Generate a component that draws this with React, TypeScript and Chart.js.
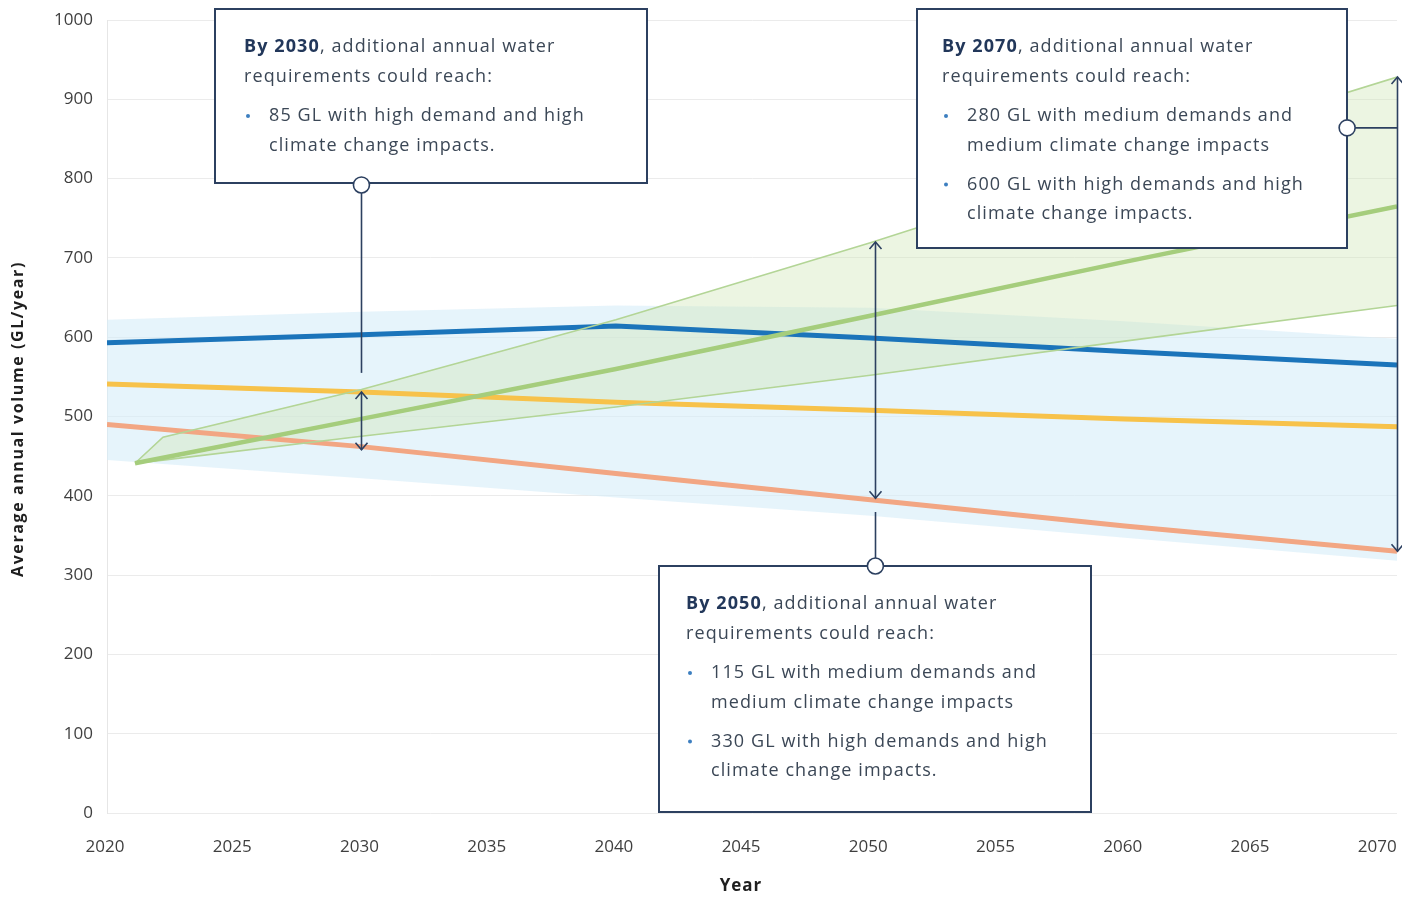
import React, { useEffect, useRef } from 'react';
import { Chart, registerables } from 'chart.js';

Chart.register(...registerables);

// ---------- data ----------
const X_END = 2070.7;
const X_TICKS = [2020, 2025, 2030, 2035, 2040, 2045, 2050, 2055, 2060, 2065, 2070];

const LINE_YEARS = [2020, 2030, 2040, 2050, 2060, X_END];
const BLUE_VALUES = [593, 603, 614, 599, 582, 565];
const YELLOW_VALUES = [541, 531, 518, 508, 497, 487];
const ORANGE_VALUES = [490, 462, 428, 395, 362, 330];

const BAND_YEARS = [2020, 2030, 2040, 2050, 2060, X_END];
const BAND_UPPER = [622, 632, 640, 637, 620, 598];
const BAND_LOWER = [445, 422, 398, 375, 347, 318];

const GREEN_YEARS = [2021.1, 2022.2, 2030, 2040, 2050, 2060, X_END];
const GREEN_HIGH = [441, 474, 534, 622, 719, 822, 928];
const GREEN_MID = [441, 448, 497, 560, 627, 695, 765];
const GREEN_LOW = [441, 445, 475, 512, 552, 595, 640];

const X_TITLE = 'Year';
const Y_TITLE = 'Average annual volume (GL/year)';

// ---------- annotation texts ----------
type Seg = [string, boolean];
interface Note {
  x1: number; x2: number; yTop: number; yBot: number;
  head: Seg[][];
  bullets: string[][];
  textDx: number;
}

const NOTES: Note[] = [
  {
    x1: 2024.25, x2: 2041.23, yTop: 1014, yBot: 794.5, textDx: 29,
    head: [[['By 2030', true], [', additional annual water', false]], [['requirements could reach:', false]]],
    bullets: [['85 GL with high demand and high', 'climate change impacts.']],
  },
  {
    x1: 2051.84, x2: 2068.74, yTop: 1014, yBot: 712.5, textDx: 25,
    head: [[['By 2070', true], [', additional annual water', false]], [['requirements could reach:', false]]],
    bullets: [
      ['280 GL with medium demands and', 'medium climate change impacts'],
      ['600 GL with high demands and high', 'climate change impacts.'],
    ],
  },
  {
    x1: 2041.7, x2: 2058.68, yTop: 311.5, yBot: 1.3, textDx: 27,
    head: [[['By 2050', true], [', additional annual water', false]], [['requirements could reach:', false]]],
    bullets: [
      ['115 GL with medium demands and', 'medium climate change impacts'],
      ['330 GL with high demands and high', 'climate change impacts.'],
    ],
  },
];

const FONT = '"Open Sans", sans-serif';
const NAVY = '#2c4060';
const TEXT = '#3b4756';

function xy(years: number[], vals: number[]) {
  return years.map((x, i) => ({ x, y: vals[i] }));
}

const notesPlugin = {
  id: 'notes',
  afterDatasetsDraw(chart: any) {
    const { ctx, scales } = chart;
    const X = (v: number) => scales.x.getPixelForValue(v);
    const Y = (v: number) => scales.y.getPixelForValue(v);
    ctx.save();

    const vline = (x: number, y1: number, y2: number) => {
      ctx.beginPath();
      ctx.moveTo(x, y1);
      ctx.lineTo(x, y2);
      ctx.stroke();
    };
    const dblArrow = (xv: number, v1: number, v2: number) => {
      const x = Math.round(X(xv)) + 0.5;
      const yt = Y(v1);
      const yb = Y(v2);
      vline(x, yt, yb);
      ctx.beginPath();
      ctx.moveTo(x - 6, yt + 7); ctx.lineTo(x, yt); ctx.lineTo(x + 6, yt + 7);
      ctx.moveTo(x - 6, yb - 7); ctx.lineTo(x, yb); ctx.lineTo(x + 6, yb - 7);
      ctx.stroke();
    };
    const circle = (x: number, y: number) => {
      ctx.beginPath();
      ctx.arc(x, y, 8, 0, Math.PI * 2);
      ctx.fillStyle = '#ffffff';
      ctx.fill();
      ctx.lineWidth = 1.6;
      ctx.strokeStyle = NAVY;
      ctx.stroke();
    };

    ctx.strokeStyle = NAVY;
    ctx.lineWidth = 1.6;
    dblArrow(2030, 531, 458);
    vline(Math.round(X(2030)) + 0.5, Y(792), Y(555));
    dblArrow(2050.2, 720, 397);
    vline(Math.round(X(2050.2)) + 0.5, Y(311.5), Y(379.6));
    dblArrow(X_END, 928, 330);
    ctx.beginPath();
    ctx.moveTo(X(2068.74), Y(864));
    ctx.lineTo(X(X_END), Y(864));
    ctx.stroke();

    NOTES.forEach((n) => {
      const l = Math.round(X(n.x1)), r = Math.round(X(n.x2));
      const t = Math.round(Y(n.yTop)), b = Math.round(Y(n.yBot));
      ctx.fillStyle = '#ffffff';
      ctx.fillRect(l, t, r - l, b - t);
      ctx.lineWidth = 2;
      ctx.strokeStyle = NAVY;
      ctx.strokeRect(l, t, r - l, b - t);

      ctx.textBaseline = 'middle';
      ctx.textAlign = 'left';
      (ctx as any).letterSpacing = '1.1px';
      let y = t + 38;
      n.head.forEach((line, i) => {
        if (i > 0) y += 30;
        let x = l + n.textDx;
        line.forEach(([s, bold]) => {
          ctx.font = `${bold ? '700' : '400'} 18px ${FONT}`;
          ctx.fillStyle = bold ? '#22375a' : TEXT;
          ctx.fillText(s, x, y);
          x += ctx.measureText(s).width;
        });
      });
      n.bullets.forEach((lines) => {
        y += 39;
        ctx.fillStyle = '#3d7fc0';
        ctx.beginPath();
        ctx.arc(l + n.textDx + 4, y, 2, 0, Math.PI * 2);
        ctx.fill();
        lines.forEach((s, i) => {
          if (i > 0) y += 29.5;
          ctx.font = `400 18px ${FONT}`;
          ctx.fillStyle = TEXT;
          ctx.fillText(s, l + n.textDx + 25, y);
        });
      });
      (ctx as any).letterSpacing = '0px';
    });

    circle(X(2030), Y(792));
    circle(X(2050.2), Y(311.5));
    circle(X(2068.74), Y(864));
    ctx.restore();
  },
  afterDraw(chart: any) {
    const { ctx, chartArea } = chart;
    ctx.save();
    ctx.fillStyle = '#1f1f1f';
    ctx.textAlign = 'center';
    ctx.textBaseline = 'middle';
    (ctx as any).letterSpacing = '1px';
    ctx.font = `700 17px ${FONT}`;
    ctx.fillText(X_TITLE, (chartArea.left + chartArea.right) / 2 - 11, 886);
    (ctx as any).letterSpacing = '1.6px';
    ctx.font = `700 16px ${FONT}`;
    ctx.translate(18, 419);
    ctx.rotate(-Math.PI / 2);
    ctx.fillText(Y_TITLE, 0, 0);
    ctx.restore();
  },
};

export default function App() {
  const ref = useRef<HTMLCanvasElement | null>(null);

  useEffect(() => {
    document.body.style.margin = '0';
    const canvas = ref.current;
    if (!canvas) return;
    const thin = { pointRadius: 0, pointHoverRadius: 0, tension: 0 };
    const none = 'rgba(0,0,0,0)';
    const chart = new Chart(canvas, {
      type: 'line',
      data: {
        datasets: [
          { label: 'bandUpper', data: xy(BAND_YEARS, BAND_UPPER), borderWidth: 0, borderColor: none, fill: false, order: 10, ...thin },
          { label: 'bandLower', data: xy(BAND_YEARS, BAND_LOWER), borderWidth: 0, borderColor: none, backgroundColor: 'rgba(214,236,248,0.6)', fill: 0, order: 9, ...thin },
          { label: 'greenFillHigh', data: xy(GREEN_YEARS, GREEN_HIGH), borderWidth: 0, borderColor: none, fill: false, order: 8, ...thin },
          { label: 'greenFillLow', data: xy(GREEN_YEARS, GREEN_LOW), borderWidth: 0, borderColor: none, backgroundColor: 'rgba(208,230,182,0.4)', fill: 2, order: 7, ...thin },
          { label: 'orange', data: xy(LINE_YEARS, ORANGE_VALUES), borderWidth: 5, borderColor: '#f2a683', fill: false, order: 6, ...thin },
          { label: 'yellow', data: xy(LINE_YEARS, YELLOW_VALUES), borderWidth: 5, borderColor: '#f7c24a', fill: false, order: 5, ...thin },
          { label: 'blue', data: xy(LINE_YEARS, BLUE_VALUES), borderWidth: 5, borderColor: '#1b74ba', fill: false, order: 4, ...thin },
          { label: 'greenHigh', data: xy(GREEN_YEARS, GREEN_HIGH), borderWidth: 1.6, borderColor: '#b3d596', fill: false, order: 2, ...thin },
          { label: 'greenLow', data: xy(GREEN_YEARS, GREEN_LOW), borderWidth: 1.6, borderColor: '#b3d596', fill: false, order: 2, ...thin },
          { label: 'greenMid', data: xy(GREEN_YEARS, GREEN_MID), borderWidth: 4.5, borderColor: '#a5cd7c', fill: false, order: 1, ...thin },
        ],
      },
      options: {
        animation: false,
        responsive: true,
        maintainAspectRatio: false,
        layout: { padding: { left: 0, top: 20, right: 5, bottom: 0 } },
        plugins: { legend: { display: false }, tooltip: { enabled: false } },
        events: [],
        scales: {
          x: {
            type: 'linear',
            min: 2020,
            max: X_END,
            afterBuildTicks: (s: any) => { s.ticks = X_TICKS.map((v) => ({ value: v })); },
            afterFit: (s: any) => { s.height = 87; s.paddingLeft = 0; s.paddingRight = 0; },
            grid: { display: false, drawTicks: false },
            border: { display: false },
            ticks: { padding: 24, labelOffset: -2, color: '#3f3f3f', font: { family: FONT, size: 17 }, maxRotation: 0, autoSkip: false, callback: (v: any) => String(v) },
            title: { display: false },
          },
          y: {
            min: 0,
            max: 1000,
            afterFit: (s: any) => { s.width = 107; s.paddingTop = 0; s.paddingBottom = 0; },
            grid: { color: '#ebebeb', lineWidth: 1, drawTicks: false },
            border: { display: true, color: '#e6e6e6' },
            ticks: { stepSize: 100, padding: 14, color: '#3f3f3f', font: { family: FONT, size: 17 }, callback: (v: any) => String(v) },
            title: { display: false },
          },
        },
      },
      plugins: [notesPlugin],
    } as any);
    return () => chart.destroy();
  }, []);

  return (
    <div style={{ position: 'absolute', left: 0, top: 0, width: 1402, height: 900, background: '#fff' }}>
      <canvas ref={ref} />
    </div>
  );
}
